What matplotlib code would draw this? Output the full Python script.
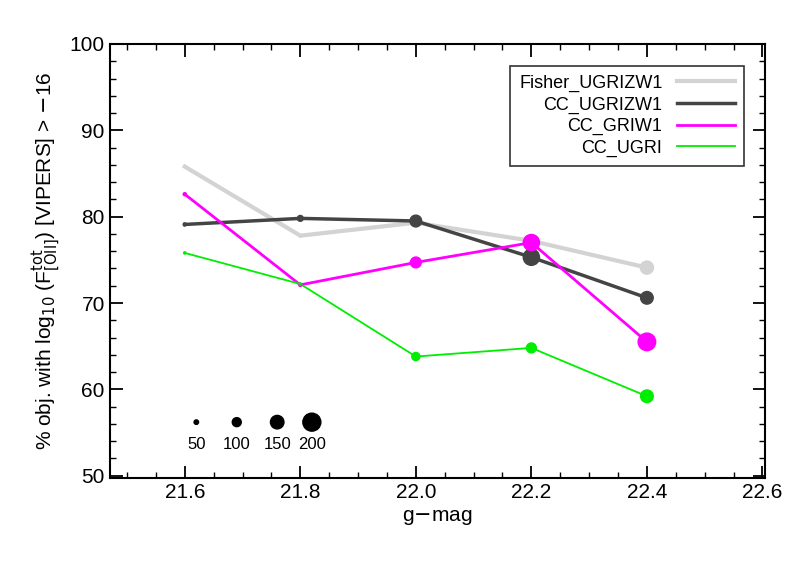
import numpy as np
import matplotlib.pyplot as plt
from matplotlib.ticker import MultipleLocator

plt.rcParams['font.family'] = ['Liberation Sans', 'DejaVu Sans']

# data
gmag = [21.6, 21.8, 22.0, 22.2, 22.4]
labels = ['Fisher_UGRIZW1', 'CC_UGRIZW1', 'CC_GRIW1', 'CC_UGRI']
colors = ['#d3d3d3', '#444444', '#ff00ff', '#00ee00']
widths = [3, 2.5, 2, 1.3]
frac = [
    [85.8, 77.8, 79.3, 77.2, 74.1],
    [79.1, 79.8, 79.5, 75.3, 70.6],
    [82.6, 72.1, 74.7, 77.0, 65.5],
    [75.8, 72.2, 63.8, 64.8, 59.2],
]
counts = [
    [20, 30, 100, 130, 145],
    [35, 65, 130, 180, 140],
    [35, 35, 120, 180, 195],
    [25, 25, 90, 110, 140],
]
size_ref = [50, 100, 150, 200]

def msize(n):
    # marker diameter in points, roughly proportional to count
    return (np.array(n) * 0.09 * 0.72) ** 2

fig = plt.figure(figsize=(7.89, 5.64), dpi=100)
ax = fig.add_axes([0.139, 0.152, 0.831, 0.77])

handles = []
for lab, c, w, y, n in zip(labels, colors, widths, frac, counts):
    h, = ax.plot(gmag, y, color=c, lw=w, label=lab)
    ax.scatter(gmag, y, s=msize(n), color=c, zorder=3)
    handles.append(h)

# marker size key
xs = [21.62, 21.69, 21.76, 21.82]
ax.scatter(xs, [56.2] * 4, s=msize(size_ref), color='black', zorder=3)
for x, n in zip(xs, size_ref):
    ax.text(x, 53.6, str(n), ha='center', va='center', fontsize=12)

leg = ax.legend(handles=handles, loc='upper right', markerfirst=False,
                fontsize=13, frameon=True, fancybox=False, edgecolor='black',
                handlelength=3.2, borderaxespad=1.2, labelspacing=0.25,
                borderpad=0.5)
leg.get_frame().set_linewidth(1.2)
for t in leg.get_texts():
    t.set_ha('right')

ax.set_xlim(21.47, 22.605)
ax.set_ylim(49.7, 100)
ax.set_xticks([21.6, 21.8, 22.0, 22.2, 22.4, 22.6])
ax.set_yticks([50, 60, 70, 80, 90, 100])
ax.xaxis.set_minor_locator(MultipleLocator(0.05))
ax.yaxis.set_minor_locator(MultipleLocator(2))
ax.tick_params(which='both', direction='in', top=True, right=True, labelsize=15)
ax.tick_params(which='major', length=9, width=1.3)
ax.tick_params(which='minor', length=4, width=1)
for s in ax.spines.values():
    s.set_linewidth(1.5)

ax.set_xlabel('g$-$mag', fontsize=15)
ax.set_ylabel(r'% obj. with log$_{10}$ (F$^{\rm tot}_{\rm [OII]}$) [VIPERS] > $-$16', fontsize=15)

fig.savefig('out.png', dpi=100)
